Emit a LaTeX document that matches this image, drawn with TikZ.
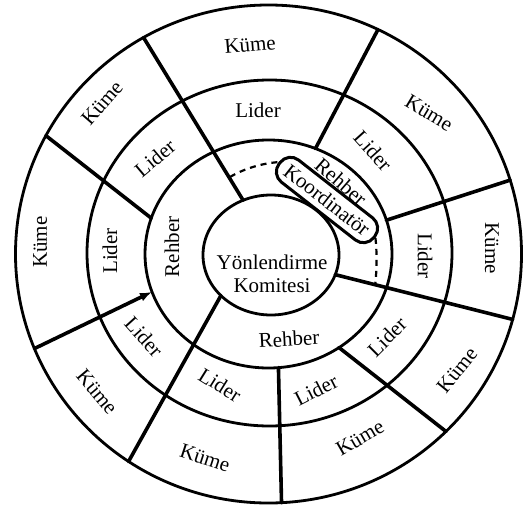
\documentclass[tikz,border=0pt]{standalone}
\usepackage{fontspec}
\setmainfont{Liberation Serif}
\usetikzlibrary{shapes.geometric,arrows.meta}
\begin{document}
\begin{tikzpicture}[x=1pt,y=-1pt,
  ring/.style={draw, ellipse, line width=2.8pt, inner sep=0pt, outer sep=0pt},
  divider/.style={line width=3.6pt, line cap=round},
  dashline/.style={line width=2.2pt, dash pattern=on 6pt off 5pt},
  lbl/.style={font=\fontsize{21}{23}\selectfont, inner sep=1pt},
  pill/.style={draw, line width=3pt, rounded corners=13pt, minimum width=120pt, minimum height=28pt, inner sep=2pt, font=\fontsize{21}{23}\selectfont}
]
\useasboundingbox[fill=white] (0,0) rectangle (524,506);
% rings
\node[ring, minimum width=506pt, minimum height=498pt] (E3) at (268.5,254) {};
\node[ring, minimum width=365pt, minimum height=346pt] (E2) at (269.5,253) {};
\node[ring, minimum width=247pt, minimum height=228pt] (E1) at (268.5,254) {};
\node[ring, minimum width=136pt, minimum height=120pt] (E0) at (271,255) {};
% dividers
\draw[divider] (E3.120.1) -- (E0.117.8);
\draw[divider] (E3.152.1) -- (E1.163.3);
\draw[divider] (E3.64.5) -- (E1.66.7);
\draw[divider] (E3.17.05) -- (E1.16.9);
\draw[divider] (E0.-17.4) -- (E3.-15.2);
\draw[divider] (E1.-53.8) -- (E3.-45.96);
\draw[divider] (E1.-85.5) -- (E3.-87.9);
\draw[divider] (E0.-141.2) -- (E3.-124.0);
\draw[divider, -{Latex[length=12pt,width=9pt]}] (E3.-158.0) -- (E1.-162.9);
% coordinator pill and dashed path
\node[pill, rotate=-38] (K) at (327,200) {Koordinatör};
\coordinate (d1) at (230,177);
\coordinate (d2) at (375,286);
\draw[dashline] (d1) .. controls (245,168) and (264,163) .. (K.west);
\draw[dashline] (K.east) .. controls (377,252) and (377,270) .. (d2);
% Küme labels
\node[lbl, rotate=5] (k1) at (250,45) {Küme};
\node[lbl, rotate=49] (k2) at (102,103) {Küme};
\node[lbl, rotate=-31] (k3) at (429,113) {Küme};
\node[lbl, rotate=-90] (k4) at (492,248) {Küme};
\node[lbl, rotate=51] (k5) at (457,370) {Küme};
\node[lbl, rotate=30] (k6) at (360,438) {Küme};
\node[lbl, rotate=-18] (k7) at (205,458) {Küme};
\node[lbl, rotate=-50] (k8) at (97,392) {Küme};
\node[lbl, rotate=90] (k9) at (40,242) {Küme};
% Lider labels
\node[lbl] (l1) at (258,110) {Lider};
\node[lbl, rotate=40] (l2) at (155,158) {Lider};
\node[lbl, rotate=-48] (l3) at (373,151) {Lider};
\node[lbl, rotate=-90] (l4) at (425,256) {Lider};
\node[lbl, rotate=45] (l5) at (387,337) {Lider};
\node[lbl, rotate=27] (l6) at (316,390) {Lider};
\node[lbl, rotate=-32] (l7) at (220,385) {Lider};
\node[lbl, rotate=-48] (l8) at (144,337) {Lider};
\node[lbl, rotate=90] (l9) at (110,251) {Lider};
% Rehber labels
\node[lbl, rotate=90] (r1) at (172,247) {Rehber};
\node[lbl, rotate=3] (r2) at (289,339) {Rehber};
\node[lbl, rotate=-41] (r3) at (341,182) {Rehber};
% centre
\node[lbl, align=center] (yk) at (272,274) {Yönlendirme\\Komitesi};
\end{tikzpicture}
\end{document}
